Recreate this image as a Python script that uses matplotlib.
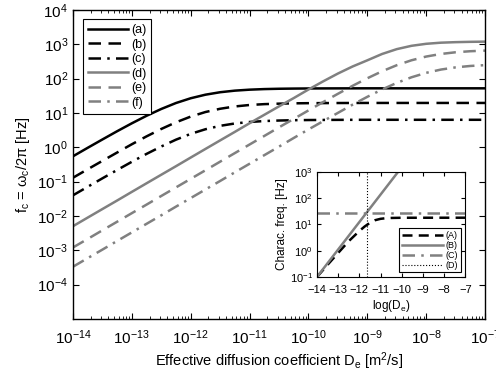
import matplotlib.pyplot as plt
import numpy as np

plt.rcParams['font.family'] = ['Liberation Sans', 'DejaVu Sans']
plt.rcParams['mathtext.fontset'] = 'custom'
plt.rcParams['mathtext.rm'] = 'Liberation Sans'
plt.rcParams['mathtext.it'] = 'Liberation Sans'

# log10 of the effective diffusion coefficient, quarter decades
logD = [-14, -13.75, -13.5, -13.25, -13, -12.75, -12.5, -12.25, -12, -11.75,
        -11.5, -11.25, -11, -10.75, -10.5, -10.25, -10, -9.75, -9.5, -9.25,
        -9, -8.75, -8.5, -8.25, -8, -7.75, -7.5, -7.25, -7]

# characteristic frequency curves [Hz]
fa = [0.544, 0.96, 1.68, 2.92, 4.97, 8.23, 13.0, 19.4, 26.7, 33.9,
      40.0, 44.5, 47.5, 49.4, 50.5, 51.1, 51.5, 51.7, 51.8, 51.9,
      52, 52, 52, 52, 52, 52, 52, 52, 52]
fb = [0.129, 0.228, 0.40, 0.70, 1.22, 2.07, 3.40, 5.32, 7.8, 10.6,
      13.2, 15.4, 17.0, 18.0, 18.6, 19.0, 19.2, 19.3, 19.4, 19.45,
      19.5, 19.5, 19.5, 19.5, 19.5, 19.5, 19.5, 19.5, 19.5]
fc = [0.0397, 0.0703, 0.124, 0.217, 0.376, 0.639, 1.05, 1.66, 2.45, 3.34,
      4.2, 4.92, 5.44, 5.79, 6.0, 6.13, 6.2, 6.24, 6.27, 6.29,
      6.3, 6.3, 6.3, 6.3, 6.3, 6.3, 6.3, 6.3, 6.3]
fd = [0.005, 0.0089, 0.0158, 0.028, 0.05, 0.089, 0.158, 0.28, 0.5, 0.89,
      1.58, 2.8, 5.0, 8.8, 15.5, 27, 48, 83, 140, 225,
      340, 520, 720, 900, 1030, 1110, 1150, 1175, 1190]
fe = [1.2e-3, 2.13e-3, 3.8e-3, 6.75e-3, 0.012, 0.0213, 0.038, 0.0675, 0.12, 0.213,
      0.38, 0.675, 1.2, 2.13, 3.8, 6.68, 11.8, 20.7, 36, 61.5,
      102, 163, 245, 341, 438, 521, 584, 626, 652]
ff = [3.3e-4, 5.87e-4, 1.04e-3, 1.86e-3, 3.3e-3, 5.87e-3, 0.0104, 0.0186, 0.033, 0.0587,
      0.104, 0.186, 0.33, 0.587, 1.04, 1.86, 3.3, 5.74, 10.0, 17.4,
      29.4, 48.1, 74.9, 109, 147, 183, 212, 233, 246]

labels = ['(a)', '(b)', '(c)', '(d)', '(e)', '(f)']

# inset data
inA_x = [-14, -13.5, -13, -12.5, -12, -11.75, -11.5, -11.25, -11, -10.75, -10.5, -10, -7]
inA_y = [0.1, 0.29, 0.82, 2.3, 5.6, 8.3, 11.5, 14.5, 16.3, 17.2, 17.6, 17.9, 18]
inB_x = [-14, -10]
inB_y = [0.1, 1500]
inC_x = [-14, -7]
inC_y = [28, 28]
inD_x = [-11.65, -11.65]
inD_y = [0.1, 1000]
inset_labels = ['(A)', '(B)', '(C)', '(D)']

gray = '#808080'
D = 10.0**np.array(logD)

fig = plt.figure(figsize=(4.96, 3.81), dpi=100)
ax = fig.add_axes([0.147, 0.163, 0.831, 0.811])

ax.plot(D, fa, '-', color='black', lw=1.8, label=labels[0])
ax.plot(D, fb, '--', color='black', lw=1.8, dashes=(5, 3), label=labels[1])
ax.plot(D, fc, '-.', color='black', lw=1.8, dashes=(5, 2.5, 1, 2.5), label=labels[2])
ax.plot(D, fd, '-', color=gray, lw=1.8, label=labels[3])
ax.plot(D, fe, '--', color=gray, lw=1.8, dashes=(5, 3), label=labels[4])
ax.plot(D, ff, '-.', color=gray, lw=1.8, dashes=(5, 2.5, 1, 2.5), label=labels[5])

ax.set_xscale('log')
ax.set_yscale('log')
ax.set_xlim(1e-14, 1e-7)
ax.set_ylim(1e-5, 1e4)
ax.set_xticks([10.0**k for k in range(-14, -6)])
ax.set_yticks([10.0**k for k in range(-4, 5)])
ax.tick_params(which='both', direction='in', top=True, right=True, labelsize=11)
ax.tick_params(which='major', length=4)
ax.tick_params(which='minor', length=2)
ax.tick_params(axis='x', which='major', pad=7)
ax.set_xlabel('Effective diffusion coefficient D$_e$ [m$^2$/s]', fontsize=10.5, labelpad=2)
ax.set_ylabel('f$_c$ = ω$_c$/2π [Hz]', fontsize=10.5)
for s in ax.spines.values():
    s.set_linewidth(1.0)

leg = ax.legend(loc='upper left', bbox_to_anchor=(0.01, 0.99), fontsize=9,
                handlelength=3.2, handletextpad=0.2, labelspacing=0.2,
                borderpad=0.4, fancybox=False, framealpha=1)
leg.get_frame().set_edgecolor('black')
leg.get_frame().set_linewidth(0.8)

# inset
ins = fig.add_axes([0.639, 0.273, 0.299, 0.276])
ins.plot(inA_x, inA_y, '--', color='black', lw=1.8, dashes=(4, 2.5), label=inset_labels[0])
ins.plot(inB_x, inB_y, '-', color=gray, lw=1.8, label=inset_labels[1])
ins.plot(inC_x, inC_y, '-.', color=gray, lw=1.8, dashes=(5, 2.5, 1, 2.5), label=inset_labels[2])
ins.plot(inD_x, inD_y, ':', color='black', lw=0.8, label=inset_labels[3])
ins.set_yscale('log')
ins.set_xlim(-14, -7)
ins.set_ylim(0.1, 1000)
ins.set_xticks(range(-14, -6))
ins.set_yticks([0.1, 1, 10, 100, 1000])
ins.tick_params(which='both', direction='in', top=True, right=True, labelsize=8)
ins.tick_params(which='major', length=3, pad=3)
ins.tick_params(axis='x', which='major', pad=6)
ins.tick_params(which='minor', length=0)
ins.set_xlabel('log(D$_e$)', fontsize=8.5, labelpad=2)
ins.set_ylabel('Charac. freq. [Hz]', fontsize=8.5, labelpad=1)
leg2 = ins.legend(loc='lower right', fontsize=6.5, handlelength=4.5,
                  handletextpad=0.3, labelspacing=0.1, borderpad=0.3,
                  fancybox=False, framealpha=1)
leg2.get_frame().set_edgecolor('black')
leg2.get_frame().set_linewidth(0.8)

fig.savefig('out.png', dpi=100)
